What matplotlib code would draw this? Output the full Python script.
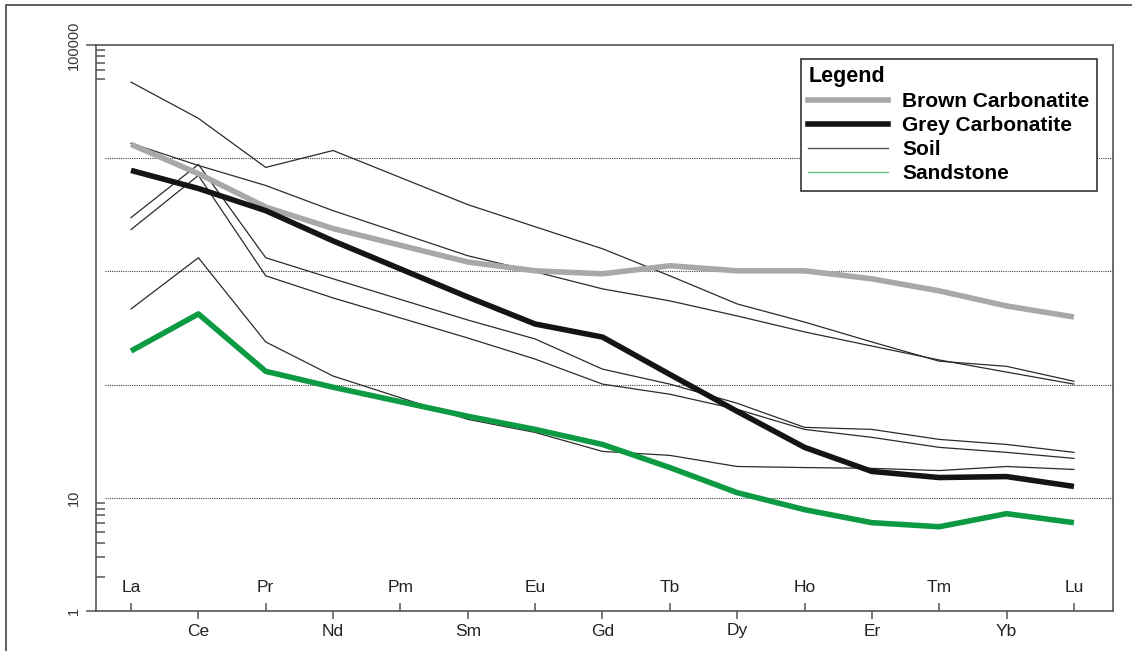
import numpy as np
import matplotlib
matplotlib.use("Agg")
import matplotlib.pyplot as plt
from matplotlib.ticker import FixedLocator, FixedFormatter, NullFormatter
from matplotlib.lines import Line2D

plt.rcParams['font.family'] = ['Liberation Sans', 'DejaVu Sans']

# REE pattern data (Pm not measured)
elements = ["La", "Ce", "Pr", "Nd", "Pm", "Sm", "Eu", "Gd", "Tb", "Dy", "Ho", "Er", "Tm", "Yb", "Lu"]
measured = ["La", "Ce", "Pr", "Nd", "Sm", "Eu", "Gd", "Tb", "Dy", "Ho", "Er", "Tm", "Yb", "Lu"]

brown_carbonatite = [13250, 7300, 3700, 2390, 1210, 1012, 952, 1122, 1012, 1012, 860, 673, 495, 396]
grey_carbonatite = [7800, 5400, 3440, 1860, 594, 343, 263, 123, 58, 27.9, 17.1, 15.1, 15.4, 12.6]
sandstone = [198, 421, 131, 94.8, 52.5, 40.2, 29.6, 18.5, 11.1, 7.86, 6.03, 5.55, 7.24, 6.03]

soil_1 = [47000, 22500, 8290, 11700, 3890, 2480, 1585, 914, 516, 357, 238, 161, 145, 107]
soil_2 = [13530, 8630, 5740, 3440, 1375, 992, 701, 549, 404, 292, 219, 165, 129, 101]
soil_3 = [2987, 8810, 1320, 860, 372, 253, 137, 101, 68.4, 41.9, 40.2, 32.8, 29.6, 25.2]
soil_4 = [2340, 7040, 914, 583, 258, 168, 101, 82.2, 60.5, 40.2, 34.2, 27.9, 25.2, 22.3]
soil_5 = [466, 1320, 238, 119, 49.3, 37.8, 25.7, 23.7, 18.9, 18.5, 18.2, 17.4, 18.9, 17.8]
soils = [soil_1, soil_2, soil_3, soil_4, soil_5]

grid_levels = [10, 100, 1000, 10000]
y_labels = ["1", "10", "100000"]

x = [elements.index(e) for e in measured]

fig = plt.figure(figsize=(11.32, 6.51), dpi=100)
ax = fig.add_axes([96 / 1132, 40 / 651, 1017 / 1132, 566 / 651])

for lvl in grid_levels:
    ax.axhline(lvl, xmin=0.009, xmax=1, color="#444444", lw=0.8, ls=(0, (1, 1)), zorder=1)

for s in soils:
    ax.plot(x, s, color="#2b2b2b", lw=0.9, zorder=2)

ax.plot(x, brown_carbonatite, color="#a8a8a8", lw=4.0, zorder=3, solid_capstyle="butt")
ax.plot(x, grey_carbonatite, color="#141414", lw=4.0, zorder=4, solid_capstyle="butt")
ax.plot(x, sandstone, color="#0c9a42", lw=4.0, zorder=5, solid_capstyle="butt")

ax.set_yscale("log")
ax.set_ylim(1, 1e5)
ax.set_xlim(-0.52, 14.58)

# y axis
ax.yaxis.set_major_locator(FixedLocator([1, 10, 1e5]))
ax.yaxis.set_major_formatter(FixedFormatter(y_labels))
ax.yaxis.set_minor_locator(FixedLocator([2, 3, 4, 5, 6, 7, 8, 9, 5e4, 6e4, 7e4, 8e4, 9e4]))
ax.yaxis.set_minor_formatter(NullFormatter())
ax.tick_params(axis="y", which="major", direction="out", length=7, width=1.1,
               color="#555555", labelsize=10.5, labelrotation=90, pad=4, labelcolor="#333333")
ax.tick_params(axis="y", which="minor", direction="in", length=6.5, width=1.1, color="#555555")
for lab in ax.get_yticklabels():
    lab.set_va("center")
ax.yaxis.get_major_ticks()[1].tick1line.set_visible(False)

# x axis: alternating labels below / above
below = [i for i in range(len(elements)) if i % 2 == 1]
above = [i for i in range(len(elements)) if i % 2 == 0]
ax.xaxis.set_major_locator(FixedLocator(below))
ax.xaxis.set_major_formatter(FixedFormatter([elements[i] for i in below]))
ax.xaxis.set_minor_locator(FixedLocator(above))
ax.xaxis.set_minor_formatter(FixedFormatter([elements[i] for i in above]))
ax.tick_params(axis="x", which="major", direction="out", length=6, width=1.1,
               color="#555555", labelsize=12.5, pad=3, labelcolor="#222222")
ax.tick_params(axis="x", which="minor", direction="in", length=6, width=1.1,
               color="#555555", labelsize=12.5, pad=-22, labelcolor="#222222")

for sp in ax.spines.values():
    sp.set_color("#555555")
    sp.set_linewidth(1.2)

handles = [
    Line2D([], [], color="#a8a8a8", lw=4.0),
    Line2D([], [], color="#141414", lw=4.0),
    Line2D([], [], color="#555555", lw=1.0),
    Line2D([], [], color="#6cc28c", lw=1.0),
]
labels = ["Brown Carbonatite", "Grey Carbonatite", "Soil", "Sandstone"]
leg = ax.legend(handles, labels, title="Legend", loc="upper right",
                bbox_to_anchor=(0.984, 0.975), fancybox=False, framealpha=1,
                edgecolor="#333333", alignment="left",
                prop={"weight": "bold", "size": 15},
                title_fontproperties={"weight": "bold", "size": 15.5},
                handlelength=3.8, handletextpad=0.7, labelspacing=0.24,
                borderpad=0.35, borderaxespad=0)
leg.get_frame().set_linewidth(1.2)
leg.set_zorder(10)

# outer frame of the figure
fig.add_artist(plt.Rectangle((6 / 1132, -0.05), 1.0, 1 - 5 / 651 + 0.05,
                             transform=fig.transFigure, fill=False,
                             ec="#444444", lw=1.2))

fig.savefig("out.png", dpi=100)
